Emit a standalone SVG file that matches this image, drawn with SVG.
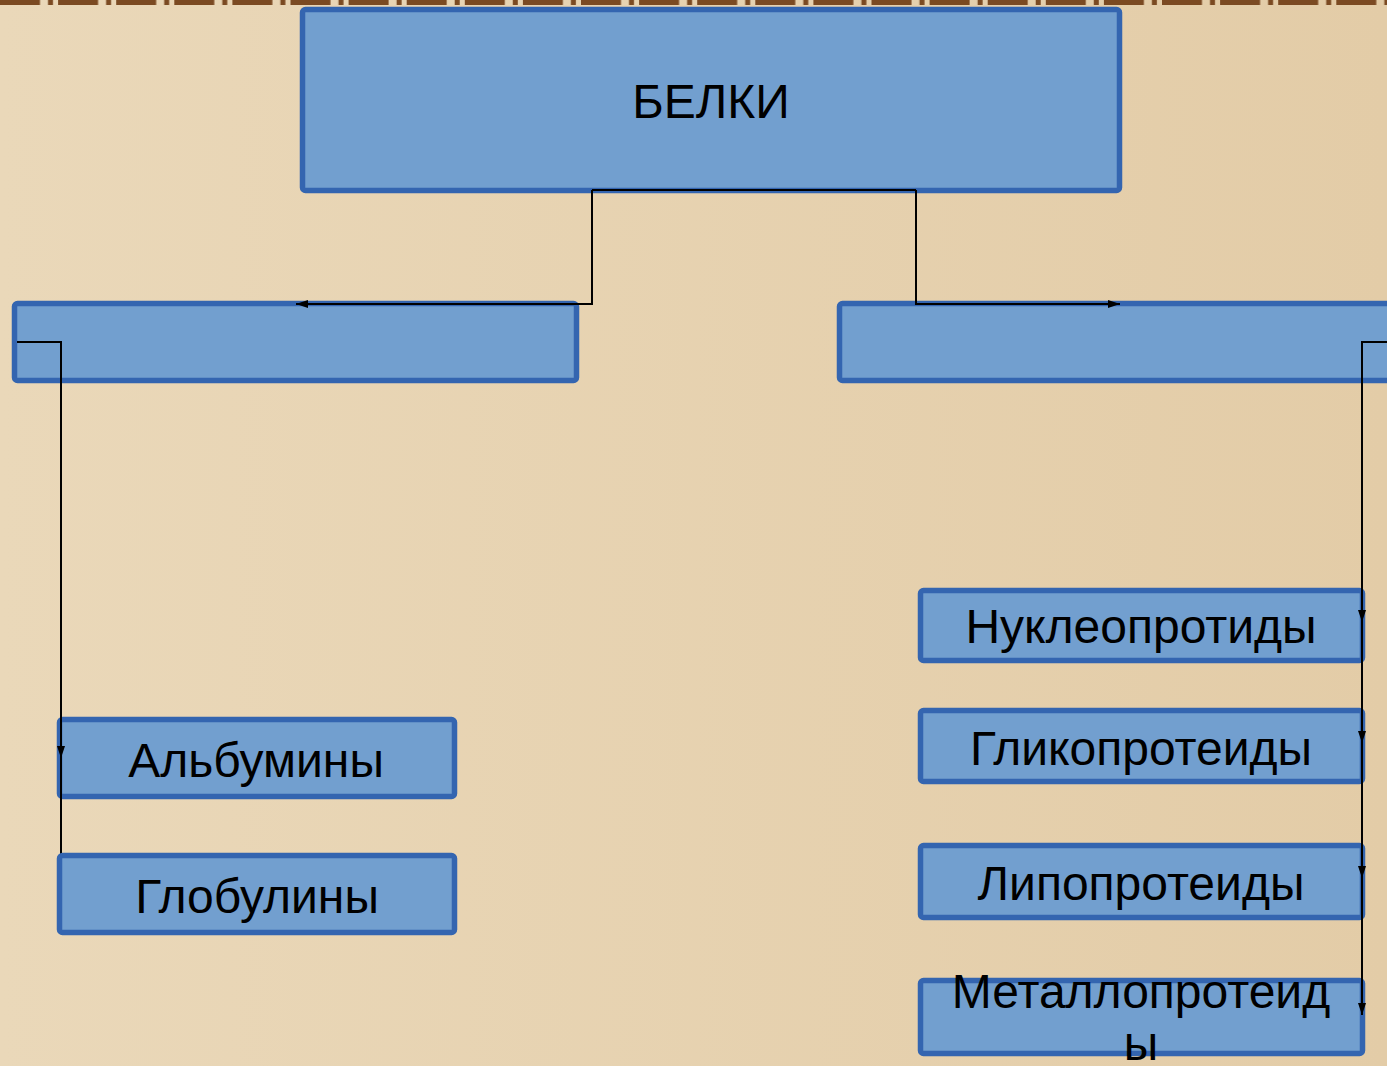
<svg xmlns="http://www.w3.org/2000/svg" width="1387" height="1066" viewBox="0 0 1387 1066">
  <defs>
    <linearGradient id="bg" x1="0" y1="0" x2="1" y2="0">
      <stop offset="0" stop-color="#EAD8B9"/>
      <stop offset="1" stop-color="#E3CCA7"/>
    </linearGradient>
    <pattern id="trim" x="0" y="0" width="58.1" height="6" patternUnits="userSpaceOnUse">
      <rect x="0" y="0" width="40" height="5" fill="#7B4A22"/>
      <rect x="48" y="0" width="5" height="5" fill="#7B4A22"/>
    </pattern>
    <marker id="arr" viewBox="0 0 12 8" refX="12" refY="4" markerWidth="12" markerHeight="8" markerUnits="userSpaceOnUse" orient="auto">
      <path d="M0,0 L12,4 L0,8 Z" fill="#000"/>
    </marker>
    <style>
      .box { fill: #729FCF; stroke: #3465B0; stroke-width: 5.5; }
      .lbl { font-family: "Liberation Sans", Arial, sans-serif; font-size: 48px; fill: #000; text-anchor: middle; }
      .con { fill: none; stroke: #000; stroke-width: 2; marker-end: url(#arr); }
      .seg { fill: none; stroke: #000; stroke-width: 2; }
    </style>
  </defs>

  <!-- background and decorative top trim -->
  <rect x="0" y="0" width="1387" height="1066" fill="url(#bg)"/>
  <rect x="0" y="0" width="1387" height="5" fill="url(#trim)"/>

  <!-- root -->
  <g id="node-belki">
    <rect class="box" x="302.5" y="9.5" width="817" height="181" rx="3"/>
    <text class="lbl" x="711" y="118">БЕЛКИ</text>
  </g>

  <!-- second level (unlabelled) -->
  <g id="node-simple">
    <rect class="box" x="14.5" y="303.5" width="562" height="77" rx="3"/>
  </g>
  <g id="node-complex">
    <rect class="box" x="839.5" y="303.5" width="600" height="77" rx="3"/>
  </g>

  <!-- simple proteins -->
  <g id="node-albumins">
    <rect class="box" x="59.5" y="719.5" width="395" height="77" rx="3"/>
    <text class="lbl" x="256" y="777">Альбумины</text>
  </g>

  <!-- complex proteins -->
  <g id="node-nucleo">
    <rect class="box" x="920.5" y="590.5" width="442" height="70" rx="3"/>
    <text class="lbl" x="1141" y="643">Нуклеопротиды</text>
  </g>
  <g id="node-glyco">
    <rect class="box" x="920.5" y="710.5" width="442" height="71" rx="3"/>
    <text class="lbl" x="1141" y="765">Гликопротеиды</text>
  </g>
  <g id="node-lipo">
    <rect class="box" x="920.5" y="845.5" width="442" height="72" rx="3"/>
    <text class="lbl" x="1141" y="900">Липопротеиды</text>
  </g>
  <g id="node-metallo">
    <rect class="box" x="920.5" y="980.5" width="442" height="73" rx="3"/>
    <text class="lbl" x="1141" y="1008">Металлопротеид</text>
    <text class="lbl" x="1141" y="1060">ы</text>
  </g>

  <!-- connectors -->
  <g id="connectors">
    <path class="seg" d="M592,190 L916,190"/>
    <path class="con" d="M592,190 L592,304 L296,304"/>
    <path class="con" d="M916,190 L916,304 L1120,304"/>
    <path class="con" d="M17,342 L61,342 L61,758"/>
    <path class="con" d="M61,758 L61,884"/>
    <path class="con" d="M1387,342 L1362,342 L1362,622"/>
    <path class="con" d="M1362,622 L1362,743"/>
    <path class="con" d="M1362,743 L1362,878"/>
    <path class="con" d="M1362,878 L1362,1015"/>
  </g>

  <!-- drawn last: covers the end of its incoming connector -->
  <g id="node-globulins">
    <rect class="box" x="59.5" y="855.5" width="395" height="77" rx="3"/>
    <text class="lbl" x="257" y="913">Глобулины</text>
  </g>
</svg>
